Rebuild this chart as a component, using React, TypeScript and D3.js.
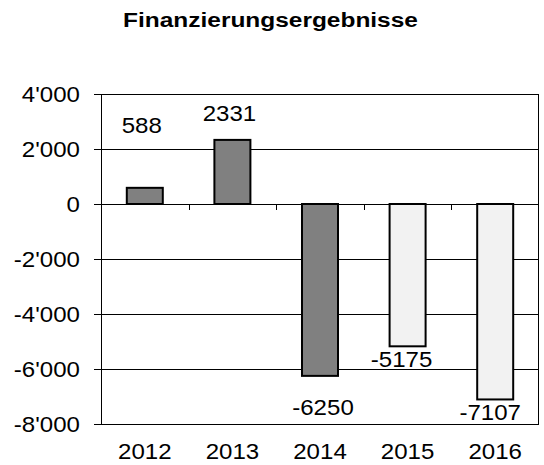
import React, { useEffect, useRef } from "react";
import * as d3 from "d3";

const years = ["2012", "2013", "2014", "2015", "2016"];
const values = [588, 2331, -6250, -5175, -7107];
// first three are actuals (dark), the last two plan values (light)
const isPlan = [false, false, false, true, true];
const yTicks = [4000, 2000, 0, -2000, -4000, -6000, -8000];
const title = "Finanzierungsergebnisse";

// manual nudges of the value labels, like in the original sheet
const labelDx = [-3, -3, 3, -6, -5];
const labelDy = [-36, 0, 18, 0, 0];

const App = () => {
  const ref = useRef<SVGSVGElement>(null);

  useEffect(() => {
    const width = 544;
    const height = 465;
    const margin = { top: 94, right: 5, bottom: 41, left: 101 };
    const font = "'Liberation Sans', Arial, sans-serif";
    const fs = 21.5;
    const sx = 1.12; // the original text is a bit wide

    const svg = d3.select(ref.current);
    svg.selectAll("*").remove();

    const x = d3
      .scaleBand()
      .domain(years)
      .range([margin.left, width - margin.right])
      .paddingInner(0)
      .paddingOuter(0);

    const y = d3
      .scaleLinear()
      .domain([-8000, 4000])
      .range([height - margin.bottom, margin.top]);

    const fmt = (v: number) =>
      d3.format(",")(v).replace(/,/g, "'").replace("−", "-");

    svg
      .append("text")
      .attr("transform", "translate(270.5,27) scale(1.165,1)")
      .attr("text-anchor", "middle")
      .attr("font-family", font)
      .attr("font-weight", "bold")
      .attr("font-size", 21)
      .text(title);

    // gridlines
    svg
      .append("g")
      .selectAll("line")
      .data(yTicks)
      .join("line")
      .attr("x1", margin.left - 7)
      .attr("x2", width - margin.right)
      .attr("y1", (d) => y(d) + 0.5)
      .attr("y2", (d) => y(d) + 0.5)
      .attr("stroke", "#000")
      .attr("stroke-width", 1);

    // frame left + right
    svg
      .append("line")
      .attr("x1", margin.left + 0.5)
      .attr("x2", margin.left + 0.5)
      .attr("y1", y(4000))
      .attr("y2", y(-8000) + 1)
      .attr("stroke", "#000");
    svg
      .append("line")
      .attr("x1", width - margin.right - 0.5)
      .attr("x2", width - margin.right - 0.5)
      .attr("y1", y(4000))
      .attr("y2", y(-8000) + 1)
      .attr("stroke", "#000");

    // y labels
    svg
      .append("g")
      .selectAll("text")
      .data(yTicks)
      .join("text")
      .attr("transform", (d) => `translate(${margin.left - 21},${y(d)}) scale(${sx},1)`)
      .attr("dy", "0.36em")
      .attr("text-anchor", "end")
      .attr("font-family", font)
      .attr("font-size", fs)
      .text((d) => fmt(d));

    // category ticks on the zero line
    svg
      .append("g")
      .selectAll("line")
      .data(years.slice(1))
      .join("line")
      .attr("x1", (d) => Math.round(x(d)!) + 0.5)
      .attr("x2", (d) => Math.round(x(d)!) + 0.5)
      .attr("y1", y(0))
      .attr("y2", y(0) + 6)
      .attr("stroke", "#000");

    // bars
    const bw = 36;
    svg
      .append("g")
      .selectAll("rect")
      .data(values)
      .join("rect")
      .attr("x", (d, i) => x(years[i])! + x.bandwidth() / 2 - bw / 2)
      .attr("width", bw)
      .attr("y", (d) => y(Math.max(0, d)))
      .attr("height", (d) => Math.abs(y(d) - y(0)))
      .attr("fill", (d, i) => (isPlan[i] ? "#f2f2f2" : "#808080"))
      .attr("stroke", "#000")
      .attr("stroke-width", 2);

    // value labels
    svg
      .append("g")
      .selectAll("text")
      .data(values)
      .join("text")
      .attr("transform", (d, i) => {
        const tx = x(years[i])! + x.bandwidth() / 2 + labelDx[i];
        const ty = (d >= 0 ? y(d) - 19 : y(d) + 21) + labelDy[i];
        return `translate(${tx},${ty}) scale(${sx},1)`;
      })
      .attr("text-anchor", "middle")
      .attr("font-family", font)
      .attr("font-size", fs)
      .text((d) => String(d));

    // x labels
    svg
      .append("g")
      .selectAll("text")
      .data(years)
      .join("text")
      .attr("transform", (d) => `translate(${x(d)! + x.bandwidth() / 2},${height - 6}) scale(${sx},1)`)
      .attr("text-anchor", "middle")
      .attr("font-family", font)
      .attr("font-size", fs)
      .text((d) => d);
  }, []);

  return (
    <svg
      ref={ref}
      width={544}
      height={465}
      style={{ position: "absolute", left: 0, top: 0, background: "#fff" }}
    />
  );
};

export default App;
